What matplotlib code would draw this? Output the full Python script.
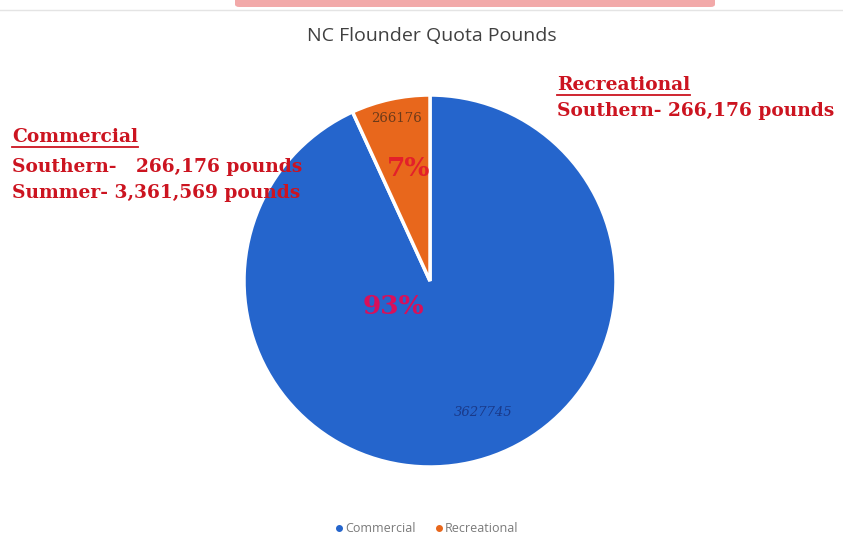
import matplotlib
matplotlib.use("Agg")
import matplotlib.pyplot as plt
from matplotlib.patches import FancyBboxPatch

categories = ["Commercial", "Recreational"]
values = [3627745, 266176]
colors = ["#2565CC", "#E8671C"]
pct_labels = ["93%", "7%"]

W, H = 843, 554
fig = plt.figure(figsize=(W / 100, H / 100), dpi=100)
fig.patch.set_facecolor("white")

# top scan artifacts (pink header strip)
fig.patches.append(FancyBboxPatch((235 / W, 1 - 7 / H), 480 / W, 10 / H,
                                  boxstyle="round,pad=0,rounding_size=0.005",
                                  transform=fig.transFigure, facecolor="#F2A9A9",
                                  edgecolor="none", zorder=0))
fig.lines.append(plt.Line2D([0, 1], [1 - 10 / H, 1 - 10 / H], transform=fig.transFigure,
                            color="#E4E4E4", lw=1))

cx, cy, r = 430, 281, 186
ax = fig.add_axes([(cx - r) / W, (H - cy - r) / H, 2 * r / W, 2 * r / H])
wedges, _ = ax.pie(values, colors=colors, startangle=90, counterclock=False,
                   radius=1.0, wedgeprops=dict(edgecolor="white", linewidth=2.5))
ax.set_xlim(-1, 1)
ax.set_ylim(-1, 1)
ax.set_aspect("auto")
ax.axis("off")

def fig_text(x, y, s, **kw):
    return fig.text(x / W, 1 - y / H, s, **kw)

fig_text(432, 36, "NC Flounder Quota Pounds", ha="center", va="center",
         fontsize=14, color="#404040", family="Open Sans")

# value labels inside slices
fig_text(397, 118, f"{values[1]}", ha="center", va="center", fontsize=9.5,
         color="#6B3A1A", family="DejaVu Serif")
fig_text(483, 413, f"{values[0]}", ha="center", va="center", fontsize=9.5,
         color="#1A3A8A", family="DejaVu Serif", style="italic")

# percentage labels
fig_text(409, 168, pct_labels[1], ha="center", va="center", fontsize=19,
         color="#E3202A", family="DejaVu Serif", weight="bold")
fig_text(393, 307, pct_labels[0], ha="center", va="center", fontsize=19,
         color="#D8105A", family="DejaVu Serif", weight="bold")

red = "#CC1420"
tf = dict(family="DejaVu Serif", weight="bold", color=red, fontsize=13.4,
          ha="left", va="center")
t1 = fig_text(12, 137, "Commercial", **tf)
fig_text(12, 167, "Southern-   266,176 pounds", **tf)
fig_text(12, 193, "Summer- 3,361,569 pounds", **tf)
t2 = fig_text(557, 85, "Recreational", **tf)
fig_text(557, 111, "Southern- 266,176 pounds", **tf)

fig.canvas.draw()
renderer = fig.canvas.get_renderer()
for txt in [t1, t2]:
    bb = txt.get_window_extent(renderer)
    y0 = bb.y0 - 1
    fig.lines.append(plt.Line2D([bb.x0 / W, bb.x1 / W], [y0 / H, y0 / H],
                                transform=fig.transFigure, color=red, lw=1.3))

# legend
for x, lab, c in [(339, categories[0], colors[0]), (439, categories[1], colors[1])]:
    fig.lines.append(plt.Line2D([x / W], [1 - 528 / H], transform=fig.transFigure,
                                marker="o", markersize=4, color=c, linestyle="none"))
    fig_text(x + 6, 528, lab, ha="left", va="center", fontsize=9,
             color="#7A7A7A", family="Open Sans")

fig.savefig("out.png", dpi=100)
